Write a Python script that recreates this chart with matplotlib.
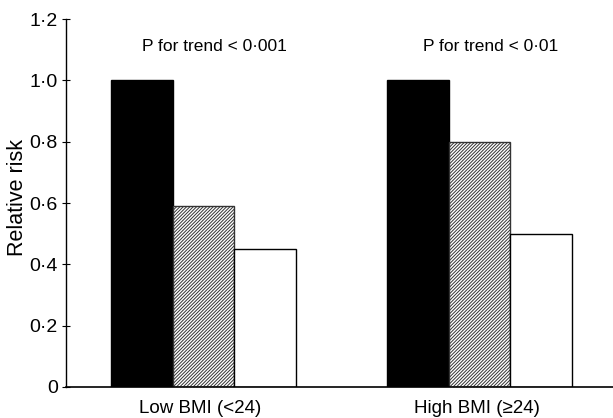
import matplotlib
matplotlib.use('Agg')
import matplotlib.pyplot as plt
from matplotlib.ticker import FixedLocator, FuncFormatter

plt.rcParams['font.family'] = ['Liberation Sans', 'DejaVu Sans']
plt.rcParams['hatch.linewidth'] = 0.7

# data
groups = ['Low BMI (<24)', 'High BMI (\u226524)']
black_vals = [1.0, 1.0]
hatch_vals = [0.59, 0.80]
white_vals = [0.45, 0.50]
trend_labels = ['P for trend < 0\u00b7001', 'P for trend < 0\u00b701']
yticks = [0, 0.2, 0.4, 0.6, 0.8, 1.0, 1.2]

# layout (bar units)
group_left = [0.73, 5.21]
bw = 1.0

fig = plt.figure(figsize=(6.13, 4.18), dpi=100)
ax = fig.add_axes([0.1077, 0.0742, 0.892, 0.8803])

for i in range(len(groups)):
    x0 = group_left[i]
    ax.bar(x0, black_vals[i], width=bw, align='edge', color='black',
           edgecolor='black', linewidth=1)
    ax.bar(x0 + bw, hatch_vals[i], width=bw, align='edge', color='white',
           edgecolor='#333333', hatch='//////////', linewidth=1)
    ax.bar(x0 + 2 * bw, white_vals[i], width=bw, align='edge', color='white',
           edgecolor='black', linewidth=1)
    ax.text(x0 + 1.68, 1.11, trend_labels[i], ha='center', va='center',
            fontsize=12.5)
    ax.text(x0 + 1.45, -0.043, groups[i], ha='center', va='top',
            fontsize=13.5)

ax.set_xlim(0, 8.87)
ax.set_ylim(0, 1.2)
ax.yaxis.set_major_locator(FixedLocator(yticks))


def fmt(v, pos):
    if v == 0:
        return '0'
    return ('%.1f' % v).replace('.', '\u00b7')


ax.yaxis.set_major_formatter(FuncFormatter(fmt))
ax.tick_params(axis='y', direction='inout', length=6, width=0.8,
               labelsize=14, pad=3)
ax.set_xticks([])
ax.spines['top'].set_visible(False)
ax.spines['right'].set_visible(False)
ax.spines['left'].set_linewidth(1)
ax.spines['bottom'].set_linewidth(1.2)
ax.set_ylabel('Relative risk', fontsize=15.5)
ax.yaxis.set_label_coords(-0.07, 0.514)

fig.savefig('out.png', dpi=100)
